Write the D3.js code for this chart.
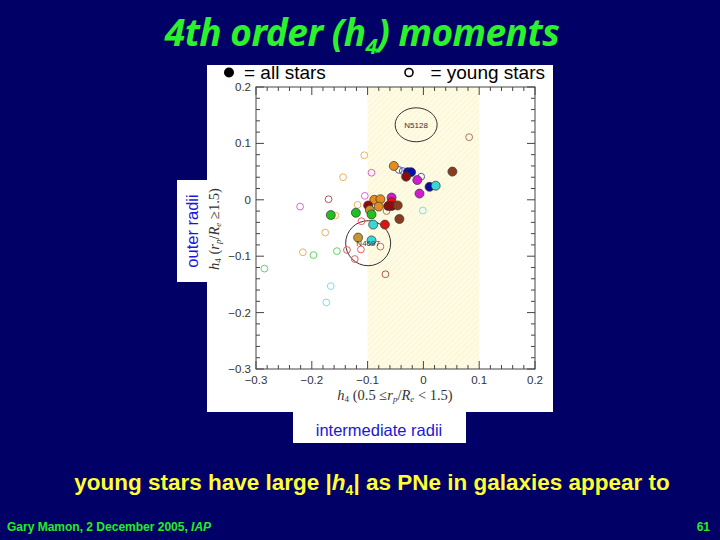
<!DOCTYPE html>
<html>
<head>
<meta charset="utf-8">
<script src="https://cdn.jsdelivr.net/npm/d3@7"></script>
<style>
  body { margin: 0; background: #000066; }
  svg { display: block; }
</style>
</head>
<body>
<svg id="slide" width="720" height="540"></svg>
<script>
// all stars (filled)
var allX = [-0.053, -0.028, -0.022, -0.031, -0.011, 0.011, 0.022, 0.052, -0.007, -0.088, -0.077, -0.057, -0.057,
            -0.063, -0.057, -0.046, -0.099, -0.080, -0.096, -0.121, -0.093, -0.166, -0.043, -0.090, -0.069, -0.117, -0.093];
var allY = [0.060, 0.049, 0.049, 0.041, 0.035, 0.023, 0.025, 0.050, 0.011, 0.000, 0.001, 0.004, -0.004,
            -0.011, -0.011, -0.010, -0.010, -0.012, -0.018, -0.023, -0.026, -0.027, -0.034, -0.044, -0.044, -0.067, -0.072];
var allGal = ["orange", "navy", "navy", "darkred", "magenta", "navy", "cyan", "brown", "magenta", "orange", "orange", "magenta", "red",
              "darkred", "darkred", "brown", "darkred", "orange", "gold", "green", "green", "green", "brown", "cyan", "red", "gold", "cyan"];

// young stars (open)
var youngX = [0.082, -0.106, -0.144, -0.093, -0.044, -0.037, -0.004, -0.001, -0.221, -0.170, -0.105, -0.118, -0.066, -0.158,
              -0.111, -0.176, -0.077, -0.137, -0.112, -0.216, -0.197, -0.155, -0.123, -0.285, -0.068, -0.166, -0.174];
var youngY = [0.111, 0.079, 0.040, 0.048, 0.053, 0.051, 0.041, -0.019, -0.012, 0.001, 0.007, -0.009, -0.020, -0.028,
              -0.038, -0.058, -0.083, -0.089, -0.088, -0.093, -0.098, -0.091, -0.105, -0.122, -0.132, -0.153, -0.182];
var youngGal = ["brown", "orange", "orange", "magenta", "navy", "navy", "navy", "cyan", "magenta", "darkred", "magenta", "orange", "brown", "orange",
                "red", "orange", "brown", "red", "red", "orange", "green", "green", "red", "green", "darkred", "cyan", "cyan"];

var galNames = ["orange", "gold", "darkred", "red", "brown", "magenta", "navy", "cyan", "green"];
var galColors = ["#e48c1c", "#c4962c", "#8c0c0c", "#dc1414", "#8a3c1e", "#d21cd2", "#0c0ca4", "#38d6d6", "#20c020"];

// labelled galaxies
var labNames = ["N5128", "N4697"];
var labX = [-0.013, -0.099];
var labY = [0.133, -0.077];

var xTicks = [-0.3, -0.2, -0.1, 0, 0.1, 0.2];
var yTicks = [-0.3, -0.2, -0.1, 0, 0.1, 0.2];
var band = [-0.1, 0.1];

var svg = d3.select("#slide");

svg.append("rect").attr("width", 720).attr("height", 540).attr("fill", "#000066");

// title
var title = svg.append("text")
    .attr("x", 362).attr("y", 46)
    .attr("text-anchor", "middle")
    .attr("fill", "#2cf22c")
    .style("font-family", "'Noto Sans', sans-serif")
    .style("font-weight", "bold").style("font-style", "italic")
    .style("font-size", "37px")
    .style("letter-spacing", "-0.5px");
title.append("tspan").text("4th order (h");
title.append("tspan").text("4").attr("dy", 8).style("font-size", "22px");
title.append("tspan").text(") moments").attr("dy", -8);

// white panel
svg.append("rect").attr("x", 207).attr("y", 65).attr("width", 346).attr("height", 347).attr("fill", "#fff");
svg.append("rect").attr("x", 177).attr("y", 180).attr("width", 31).attr("height", 102).attr("fill", "#fff");
svg.append("rect").attr("x", 293).attr("y", 411).attr("width", 173).attr("height", 32).attr("fill", "#fff");

var xScale = d3.scaleLinear().domain([-0.3, 0.2]).range([256, 535]);
var yScale = d3.scaleLinear().domain([-0.3, 0.2]).range([369, 87]);
var color = d3.scaleOrdinal().domain(galNames).range(galColors);

// hatched band
var defs = svg.append("defs");
var pat = defs.append("pattern").attr("id", "hatch")
    .attr("width", 4).attr("height", 4)
    .attr("patternUnits", "userSpaceOnUse")
    .attr("patternTransform", "rotate(45)");
pat.append("rect").attr("width", 4).attr("height", 4).attr("fill", "#fefbe3");
pat.append("line").attr("x1", 0).attr("y1", 0).attr("x2", 0).attr("y2", 4)
    .attr("stroke", "#f7f0cc").attr("stroke-width", 1);

svg.append("rect")
    .attr("x", xScale(band[0])).attr("y", yScale(0.2))
    .attr("width", xScale(band[1]) - xScale(band[0]))
    .attr("height", yScale(-0.3) - yScale(0.2))
    .attr("fill", "url(#hatch)");

// frame and ticks (inside, all four sides)
svg.append("rect")
    .attr("x", xScale(-0.3)).attr("y", yScale(0.2))
    .attr("width", xScale(0.2) - xScale(-0.3))
    .attr("height", yScale(-0.3) - yScale(0.2))
    .attr("fill", "none").attr("stroke", "#444").attr("stroke-width", 1);

var minor = d3.range(-0.3, 0.2001, 0.02);
var tickG = svg.append("g").attr("stroke", "#444").attr("stroke-width", 1);
minor.forEach(function(v) {
    var major = Math.abs(Math.round(v * 10) - v * 10) < 1e-6;
    var len = major ? 8 : 4;
    var px = xScale(v), py = yScale(v);
    tickG.append("line").attr("x1", px).attr("x2", px).attr("y1", yScale(-0.3)).attr("y2", yScale(-0.3) - len);
    tickG.append("line").attr("x1", px).attr("x2", px).attr("y1", yScale(0.2)).attr("y2", yScale(0.2) + len);
    tickG.append("line").attr("y1", py).attr("y2", py).attr("x1", xScale(-0.3)).attr("x2", xScale(-0.3) + len);
    tickG.append("line").attr("y1", py).attr("y2", py).attr("x1", xScale(0.2)).attr("x2", xScale(0.2) - len);
});

function fmt(v) {
    if (Math.abs(v) < 1e-9) return "0";
    return (v < 0 ? "\u2212" : "") + Math.abs(v).toFixed(1);
}

svg.selectAll("text.xt").data(xTicks).enter().append("text")
    .attr("class", "xt")
    .attr("x", function(d) { return xScale(d); })
    .attr("y", yScale(-0.3) + 15)
    .attr("text-anchor", "middle")
    .attr("fill", "#333")
    .style("font-family", "'Liberation Sans', Arial, sans-serif").style("font-size", "11.5px")
    .text(fmt);

svg.selectAll("text.yt").data(yTicks).enter().append("text")
    .attr("class", "yt")
    .attr("x", xScale(-0.3) - 5)
    .attr("y", function(d) { return yScale(d) + 4; })
    .attr("text-anchor", "end")
    .attr("fill", "#333")
    .style("font-family", "'Liberation Sans', Arial, sans-serif").style("font-size", "11.5px")
    .text(fmt);

// axis titles
var xl = svg.append("text")
    .attr("x", 395).attr("y", 400)
    .attr("text-anchor", "middle")
    .attr("fill", "#333")
    .style("font-family", "'Liberation Serif', serif").style("font-size", "14.5px");
xl.append("tspan").text("h").style("font-style", "italic");
xl.append("tspan").text("4").attr("dy", 2).style("font-size", "9px");
xl.append("tspan").text(" (0.5 \u2264").attr("dy", -2);
xl.append("tspan").text("r").style("font-style", "italic");
xl.append("tspan").text("p").attr("dy", 2).style("font-size", "9px").style("font-style", "italic");
xl.append("tspan").text("/").attr("dy", -2);
xl.append("tspan").text("R").style("font-style", "italic");
xl.append("tspan").text("e").attr("dy", 2).style("font-size", "9px").style("font-style", "italic");
xl.append("tspan").text(" < 1.5)").attr("dy", -2);

var yl = svg.append("text")
    .attr("transform", "translate(219," + 229 + ") rotate(-90)")
    .attr("text-anchor", "middle")
    .attr("fill", "#333")
    .style("font-family", "'Liberation Serif', serif").style("font-size", "14.5px");
yl.append("tspan").text("h").style("font-style", "italic");
yl.append("tspan").text("4").attr("dy", 2).style("font-size", "9px");
yl.append("tspan").text(" (").attr("dy", -2);
yl.append("tspan").text("r").style("font-style", "italic");
yl.append("tspan").text("p").attr("dy", 2).style("font-size", "9px").style("font-style", "italic");
yl.append("tspan").text("/").attr("dy", -2);
yl.append("tspan").text("R").style("font-style", "italic");
yl.append("tspan").text("e").attr("dy", 2).style("font-size", "9px").style("font-style", "italic");
yl.append("tspan").text(" \u22651.5)").attr("dy", -2);

// galaxy circles
svg.append("ellipse")
    .attr("cx", xScale(labX[0])).attr("cy", yScale(labY[0]))
    .attr("rx", 21).attr("ry", 17)
    .attr("fill", "none").attr("stroke", "#333").attr("stroke-width", 1);
svg.append("circle")
    .attr("cx", xScale(labX[1])).attr("cy", yScale(labY[1]))
    .attr("r", 22.5)
    .attr("fill", "none").attr("stroke", "#333").attr("stroke-width", 1);

// young stars
svg.selectAll("circle.young").data(youngX).enter().append("circle")
    .attr("class", "young")
    .attr("cx", function(d) { return xScale(d); })
    .attr("cy", function(d, i) { return yScale(youngY[i]); })
    .attr("r", 3.4)
    .attr("fill", "none")
    .attr("stroke", function(d, i) { return d3.interpolateRgb(color(youngGal[i]), "#ffffff")(0.3); })
    .attr("stroke-width", 1);

// all stars
svg.selectAll("circle.all").data(allX).enter().append("circle")
    .attr("class", "all")
    .attr("cx", function(d) { return xScale(d); })
    .attr("cy", function(d, i) { return yScale(allY[i]); })
    .attr("r", 4.5)
    .attr("fill", function(d, i) { return color(allGal[i]); })
    .attr("stroke", "#333").attr("stroke-width", 0.7);

svg.selectAll("text.gal").data(labNames).enter().append("text")
    .attr("class", "gal")
    .attr("x", function(d, i) { return xScale(labX[i]); })
    .attr("y", function(d, i) { return yScale(labY[i]) + 3; })
    .attr("text-anchor", "middle")
    .attr("fill", "#333")
    .style("font-family", "'Liberation Sans', Arial, sans-serif").style("font-size", "8px")
    .text(function(d) { return d; });

// legend
svg.append("circle").attr("cx", 229).attr("cy", 72.5).attr("r", 5).attr("fill", "#000");
svg.append("text").attr("x", 244).attr("y", 78.5).text("= all stars")
    .attr("fill", "#000").style("font-family", "'Liberation Sans', Arial, sans-serif").style("font-size", "19px");
svg.append("circle").attr("cx", 409).attr("cy", 72.5).attr("r", 4).attr("fill", "none").attr("stroke", "#000").attr("stroke-width", 1.6);
svg.append("text").attr("x", 545).attr("y", 78.5).attr("text-anchor", "end").text("= young stars")
    .attr("fill", "#000").style("font-family", "'Liberation Sans', Arial, sans-serif").style("font-size", "19px");

// radii boxes
svg.append("text")
    .attr("transform", "translate(198,231) rotate(-90)")
    .attr("text-anchor", "middle")
    .attr("fill", "#1818dc")
    .style("font-family", "'Liberation Sans', Arial, sans-serif").style("font-size", "16.5px")
    .text("outer radii");
svg.append("text")
    .attr("x", 379).attr("y", 436)
    .attr("text-anchor", "middle")
    .attr("fill", "#1818dc")
    .style("font-family", "'Liberation Sans', Arial, sans-serif").style("font-size", "16.5px")
    .text("intermediate radii");

// bottom remark
var note = svg.append("text")
    .attr("x", 372).attr("y", 490)
    .attr("text-anchor", "middle")
    .attr("fill", "#ffff33")
    .style("font-family", "'Liberation Sans', Arial, sans-serif")
    .style("font-weight", "bold").style("font-size", "22.5px");
note.append("tspan").text("young stars have large |");
note.append("tspan").text("h").style("font-style", "italic");
note.append("tspan").text("4").attr("dy", 5).style("font-size", "14px");
note.append("tspan").text("| as PNe in galaxies appear to").attr("dy", -5);

// footer
var foot = svg.append("text")
    .attr("x", 7).attr("y", 531)
    .attr("fill", "#22ee22")
    .style("font-family", "'Liberation Sans', Arial, sans-serif")
    .style("font-weight", "bold").style("font-size", "12px");
foot.append("tspan").text("Gary Mamon, 2 December 2005, ");
foot.append("tspan").text("IAP").style("font-style", "italic");

svg.append("text")
    .attr("x", 710).attr("y", 531)
    .attr("text-anchor", "end")
    .attr("fill", "#22ee22")
    .style("font-family", "'Liberation Sans', Arial, sans-serif")
    .style("font-weight", "bold").style("font-size", "12px")
    .text("61");
</script>
</body>
</html>
